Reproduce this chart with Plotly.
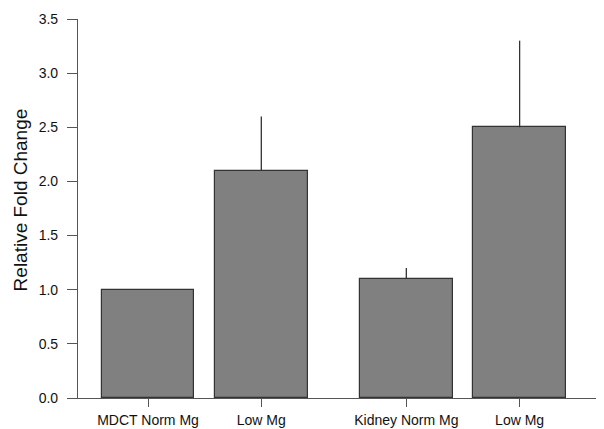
import plotly.graph_objects as go

categories = ["MDCT Norm Mg", "Low Mg", "Kidney Norm Mg", "Low Mg"]
positions = [0.0, 1.0, 2.28, 3.28]
values = [1.0, 2.1, 1.1, 2.5]
errors_upper = [0.0, 0.5, 0.1, 0.8]
y_ticks = [0.0, 0.5, 1.0, 1.5, 2.0, 2.5, 3.0, 3.5]

font_family = "Liberation Sans, Arial, sans-serif"

fig = go.Figure()
fig.add_trace(go.Bar(
    x=positions,
    y=values,
    width=0.82,
    marker=dict(color="#808080", line=dict(color="#333333", width=1.2)),
    error_y=dict(type="data", array=errors_upper, arrayminus=[0]*4, symmetric=False,
                 color="#333333", thickness=1.3, width=0, visible=True),
    showlegend=False,
))

# page body has an 8px margin; figure sized so it fits the 604x429 window
fig.update_layout(
    width=596, height=421,
    margin=dict(l=70, r=1, t=11, b=31),
    plot_bgcolor="white", paper_bgcolor="white",
    font=dict(family=font_family, color="#222222"),
    bargap=0,
)
fig.update_xaxes(
    range=[-0.618, 4.016],
    tickmode="array", tickvals=positions, ticktext=categories,
    ticks="outside", ticklen=8, tickwidth=1.2, tickcolor="#555555",
    showline=True, linecolor="#555555", linewidth=1.2,
    showgrid=False, zeroline=False,
    tickfont=dict(size=14, color="#111111"),
    ticklabelstandoff=1, automargin=False,
)
fig.update_yaxes(
    range=[0, 3.5],
    tickmode="array", tickvals=y_ticks, ticktext=[f"{v:.1f}" for v in y_ticks],
    ticks="outside", ticklen=10, tickwidth=1.2, tickcolor="#555555",
    showline=True, linecolor="#555555", linewidth=1.2,
    showgrid=False, zeroline=False,
    tickfont=dict(size=14, color="#111111"),
    ticklabelstandoff=6, automargin=False,
)
fig.add_annotation(
    text="Relative Fold Change", textangle=-90,
    xref="paper", yref="paper", x=-0.110, y=0.522,
    xanchor="center", yanchor="middle", showarrow=False,
    font=dict(size=19, color="#111111", family=font_family),
)

fig.write_html("out.html")
